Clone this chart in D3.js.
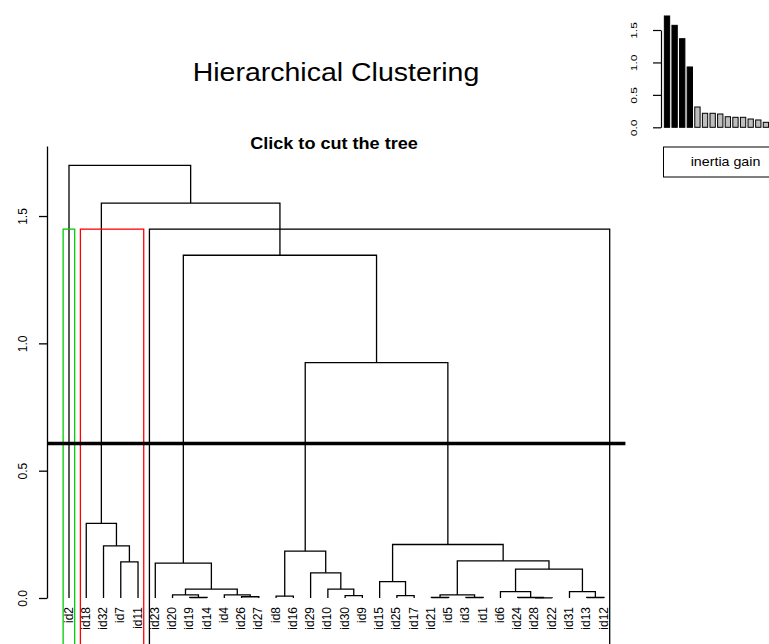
<!DOCTYPE html>
<html>
<head>
<meta charset="utf-8">
<script src="https://cdn.jsdelivr.net/npm/d3@7"></script>
<style>
body { margin: 0; background: #fff; }
svg { display: block; font-family: "Liberation Sans", Arial, sans-serif; }
</style>
</head>
<body>
<svg id="chart"></svg>
<script>
const leaves = ["id2", "id18", "id32", "id7", "id11", "id23", "id20", "id19", "id14", "id4", "id26", "id27",
    "id8", "id16", "id29", "id10", "id30", "id9", "id15", "id25", "id17", "id21", "id5", "id3", "id1",
    "id6", "id24", "id28", "id22", "id31", "id13", "id12"];

// [left, right, height] - strings are leaves, numbers point to an earlier merge
const merges = [
    ["id28", "id22", 0.0005], ["id24", 0, 0.002], ["id6", 1, 0.025], ["id13", "id12", 0.002],
    ["id31", 3, 0.025], [2, 4, 0.113], ["id21", "id5", 0.002], ["id3", "id1", 0.002],
    [6, 7, 0.012], [8, 5, 0.146], ["id25", "id17", 0.009], ["id15", 10, 0.064],
    [11, 9, 0.210], ["id30", "id9", 0.009], ["id10", 13, 0.035], ["id29", 14, 0.099],
    ["id8", "id16", 0.007], [16, 15, 0.184], [17, 12, 0.924], ["id19", "id14", 0.002],
    ["id20", 19, 0.012], ["id26", "id27", 0.005], ["id4", 21, 0.012], [20, 22, 0.035],
    ["id23", 23, 0.137], [24, 18, 1.346], ["id7", "id11", 0.142], ["id32", 26, 0.205],
    ["id18", 27, 0.293], [28, 25, 1.551], ["id2", 29, 1.699],
];

const clusterSizes = [1, 4, 27];
const clusterColors = ["#00CD00", "#FF0000", "#000000"];
const cutHeight = 0.607;
const yTicks = [0, 0.5, 1, 1.5];

const inertiaGain = [1.716, 1.572, 1.366, 0.930, 0.313, 0.216, 0.216, 0.205, 0.163, 0.154, 0.154, 0.128, 0.113, 0.077];
const gainTicks = [0, 0.5, 1, 1.5];
const nChosen = 4;

class Dendrogram {
    constructor(svg, width = 769, height = 644) {
        this.svg = svg;
        this.width = width;
        this.height = height;
    }

    initialize() {
        this.svg = d3.select(this.svg)
            .attr("width", this.width)
            .attr("height", this.height);
        this.titles = this.svg.append("g");
        this.container = this.svg.append("g");
        this.rects = this.svg.append("g");
        this.yAxis = this.svg.append("g");
        this.labels = this.svg.append("g");
        this.inset = this.svg.append("g");

        this.xScale = d3.scalePoint().domain(leaves).range([69, 604]);
        this.idx = d3.scaleLinear().domain([1, leaves.length]).range([69, 604]);
        this.yScale = d3.scaleLinear().domain([0, 1.775]).range([598, 146]);
    }

    buildTree() {
        const nodes = [];
        const toNode = (d) => (typeof d === "string" ? { name: d, height: 0 } : nodes[d]);
        merges.forEach(([a, b, h]) => nodes.push({ height: h, children: [toNode(a), toNode(b)] }));
        const root = d3.hierarchy(nodes[nodes.length - 1]);
        root.eachAfter((n) => {
            n.px = n.children ? d3.mean(n.children, (c) => c.px) : this.xScale(n.data.name);
        });
        return root;
    }

    update() {
        const x = this.xScale, y = this.yScale;
        const root = this.buildTree();

        this.titles.append("text")
            .attr("transform", "translate(336, 80.7) scale(1.14, 1)")
            .attr("text-anchor", "middle")
            .style("font-size", "25px")
            .text("Hierarchical Clustering");
        this.titles.append("text")
            .attr("transform", "translate(334, 148.7) scale(1.13, 1)")
            .attr("text-anchor", "middle")
            .style("font-size", "16px")
            .style("font-weight", "bold")
            .text("Click to cut the tree");

        // elbow links
        const path = (n) => {
            const [a, b] = n.children;
            const ya = y(a.data.height), yb = y(b.data.height), yn = y(n.data.height);
            return `M${a.px},${ya}V${yn}H${b.px}V${yb}`;
        };
        this.container
            .selectAll("path")
            .data(root.descendants().filter((d) => d.children))
            .join("path")
            .attr("d", path)
            .attr("fill", "none")
            .attr("stroke", "#000")
            .attr("stroke-width", 1.3);

        // cluster rectangles
        const heights = merges.map((m) => m[2]).sort(d3.descending);
        const k = clusterSizes.length;
        const rectTop = d3.mean([heights[k - 2], heights[k - 1]]);
        const ends = d3.cumsum([0, ...clusterSizes]);
        this.rects
            .selectAll("rect")
            .data(clusterSizes)
            .join("rect")
            .attr("x", (d, i) => this.idx(ends[i] + 0.66))
            .attr("y", y(rectTop))
            .attr("width", (d, i) => this.idx(ends[i + 1] + 0.33) - this.idx(ends[i] + 0.66))
            .attr("height", this.height + 20 - y(rectTop))
            .attr("fill", "none")
            .attr("stroke", (d, i) => clusterColors[i])
            .attr("stroke-width", 1.3);

        this.svg.append("line")
            .attr("x1", this.idx(1 - 0.04 * 31)).attr("x2", this.idx(32 + 0.04 * 31))
            .attr("y1", y(cutHeight)).attr("y2", y(cutHeight))
            .attr("stroke", "#000")
            .attr("stroke-width", 3.5);

        this.yAxis
            .attr("transform", "translate(47, 0)")
            .call(d3.axisLeft(y).tickValues(yTicks).tickSize(8).tickSizeOuter(0).tickFormat(d3.format(".1f")));
        this.yAxis.selectAll("path, line").attr("stroke", "#000").attr("stroke-width", 1.3);
        this.yAxis.selectAll("text")
            .attr("x", null).attr("dy", null)
            .attr("transform", "translate(-20, 0) rotate(-90)")
            .attr("text-anchor", "middle")
            .attr("fill", "#000")
            .style("font-size", "12px")
            .style("font-family", "'Liberation Sans', Arial, sans-serif");

        this.labels
            .selectAll("text")
            .data(leaves)
            .join("text")
            .attr("transform", (d) => `translate(${x(d) + 3.5}, 607) rotate(-90)`)
            .attr("text-anchor", "end")
            .style("font-size", "12px")
            .text((d) => d);
    }

    drawInset() {
        const xb = d3.scaleBand().domain(d3.range(inertiaGain.length)).range([663.2, 769.7])
            .paddingInner(0.3).paddingOuter(0.15);
        const yb = d3.scaleLinear().domain([0, 1.5]).range([127.3, 30]);

        this.inset
            .selectAll("rect")
            .data(inertiaGain)
            .join("rect")
            .attr("x", (d, i) => xb(i))
            .attr("y", (d) => yb(d))
            .attr("width", xb.bandwidth())
            .attr("height", (d) => yb(0) - yb(d))
            .attr("fill", (d, i) => (i < nChosen ? "#000" : "#BEBEBE"))
            .attr("stroke", "#000")
            .attr("stroke-width", 1);

        const ax = this.inset.append("g")
            .attr("transform", "translate(661, 0)")
            .call(d3.axisLeft(yb).tickValues(gainTicks).tickSize(8).tickSizeOuter(0).tickFormat(d3.format(".1f")));
        ax.selectAll("path, line").attr("stroke", "#000").attr("stroke-width", 1.2);
        // labels in the small panel come out squeezed across
        ax.selectAll("text")
            .attr("x", null).attr("dy", null)
            .attr("transform", "translate(-24.5, 0) rotate(-90) scale(1, 0.78)")
            .attr("text-anchor", "middle")
            .attr("fill", "#000")
            .style("font-size", "12px")
            .style("font-family", "'Liberation Sans', Arial, sans-serif");

        this.inset.append("rect")
            .attr("x", 663.5).attr("y", 147)
            .attr("width", 130).attr("height", 30)
            .attr("fill", "#fff")
            .attr("stroke", "#000");
        this.inset.append("text")
            .attr("transform", "translate(725.5, 166) scale(1.14, 1)")
            .attr("text-anchor", "middle")
            .style("font-size", "12.5px")
            .text("inertia gain");
    }
}

const chart = new Dendrogram(document.getElementById("chart"));
chart.initialize();
chart.update();
chart.drawInset();
</script>
</body>
</html>
